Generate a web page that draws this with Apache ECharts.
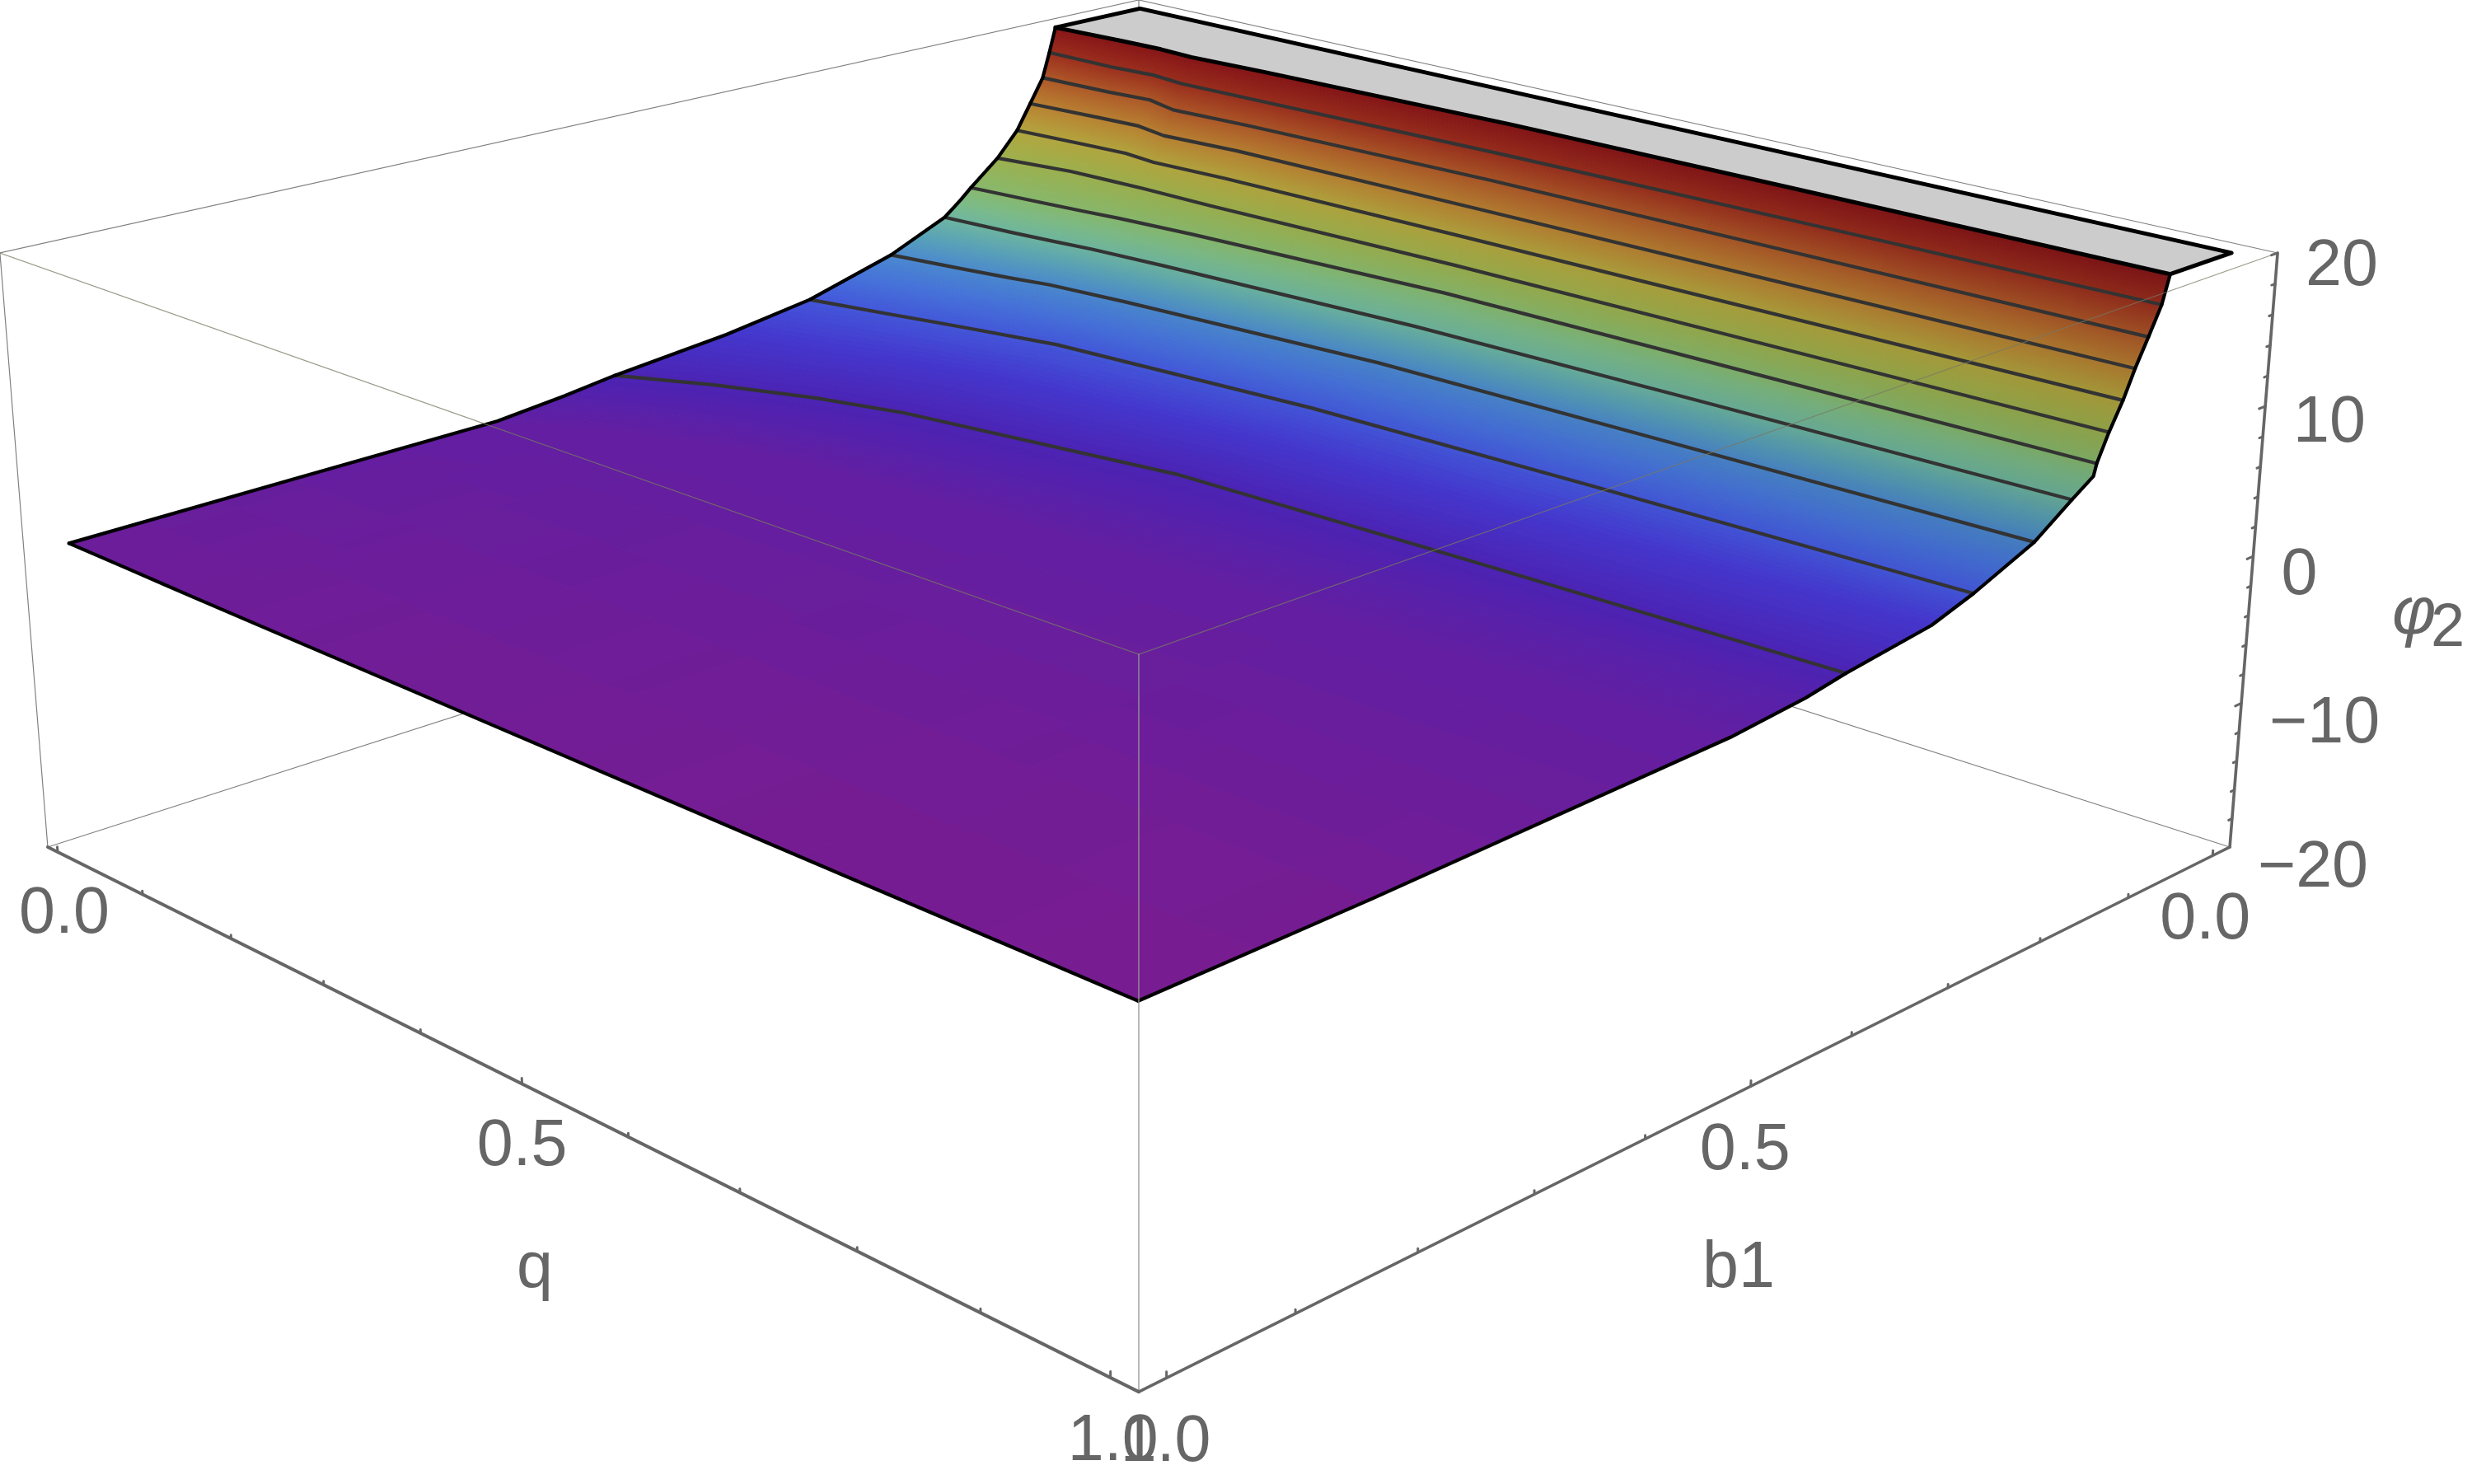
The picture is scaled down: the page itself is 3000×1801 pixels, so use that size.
<!DOCTYPE html>
<html>
<head>
<meta charset="utf-8">
<title>phi2 surface</title>
<style>
  html, body { margin: 0; background: #fff; }
  #chart { width: 3000px; height: 1801px; }
</style>
<script src="https://cdn.jsdelivr.net/npm/echarts@6/dist/echarts.min.js"></script>
</head>
<body>
<div id="chart"></div>
<script>
// values
const qColumns = [0.01, 0.078, 0.118, 0.152, 0.222, 0.455, 0.703, 1];

const b1Rows = [
  [1, 1, 1, 1, 1, 1, 1, 1],
  [0.82, 0.82, 0.82, 0.82, 0.82, 0.82, 0.82, 0.82],
  [0.645, 0.6, 0.585, 0.57, 0.55, 0.53, 0.517, 0.507],
  [0.585, 0.553, 0.537, 0.525, 0.505, 0.47, 0.45, 0.435],
  [0.538, 0.502, 0.485, 0.471, 0.45, 0.411, 0.403, 0.396],
  [0.432, 0.411, 0.397, 0.386, 0.368, 0.338, 0.328, 0.31],
  [0.35, 0.334, 0.324, 0.316, 0.3, 0.28, 0.273, 0.267],
  [0.2675, 0.255, 0.247, 0.239, 0.231, 0.212, 0.208, 0.204],
  [0.2117, 0.205, 0.2, 0.195, 0.189, 0.174, 0.169, 0.165],
  [0.195, 0.187, 0.182, 0.176, 0.17, 0.15, 0.146, 0.1424],
  [0.184, 0.176, 0.171, 0.166, 0.159, 0.143, 0.141, 0.1397],
  [0.1555, 0.1434, 0.1415, 0.14, 0.1396, 0.132, 0.13, 0.1282],
  [0.1344, 0.128, 0.1245, 0.1287, 0.1244, 0.1205, 0.118, 0.1147],
  [0.1202, 0.1135, 0.1104, 0.1178, 0.1116, 0.1083, 0.106, 0.1033],
  [0.1066, 0.1028, 0.0983, 0.1077, 0.1026, 0.0943, 0.0925, 0.0905],
  [0.0993, 0.0985, 0.0945, 0.0989, 0.0964, 0.0876, 0.083, 0.0778],
  [0.0926, 0.088, 0.0865, 0.0885, 0.084, 0.0743, 0.072, 0.0705]
];

const phi2Rows = [
  [0.91, 0.86, 0.83, 0.8, 0.76, 0.66, 0.54, 0.43],
  [1.12, 1.06, 1.03, 1, 0.96, 0.84, 0.74, 0.64],
  [1.3, 1.3, 1.3, 1.3, 1.3, 1.3, 1.3, 1.3],
  [1.8, 1.8, 1.8, 1.8, 1.8, 1.8, 1.8, 1.8],
  [2.3, 2.3, 2.3, 2.3, 2.3, 2.3, 2.3, 2.3],
  [3.1, 3.1, 3.1, 3.1, 3.1, 3.1, 3.1, 3.1],
  [4.05, 4.05, 4.05, 4.05, 4.05, 4.05, 4.05, 4.05],
  [5.8, 5.8, 5.8, 5.8, 5.8, 5.8, 5.8, 5.8],
  [7.6, 7.6, 7.6, 7.6, 7.6, 7.6, 7.6, 7.6],
  [8.6, 8.6, 8.6, 8.6, 8.6, 8.6, 8.6, 8.6],
  [9.35, 9.35, 9.35, 9.35, 9.35, 9.35, 9.35, 9.35],
  [11.1, 11.1, 11.1, 11.1, 11.1, 11.1, 11.1, 11.1],
  [12.85, 12.85, 12.85, 12.85, 12.85, 12.85, 12.85, 12.85],
  [14.65, 14.65, 14.65, 14.65, 14.65, 14.65, 14.65, 14.65],
  [16.4, 16.4, 16.4, 16.4, 16.4, 16.4, 16.4, 16.4],
  [18.2, 18.2, 18.2, 18.2, 18.2, 18.2, 18.2, 18.2],
  [20, 20, 20, 20, 20, 20, 20, 20]
];

// rows of the tables above that carry a contour line
const contourRows = [4, 6, 7, 8, 10, 11, 12, 13, 14, 15];

const qTicks = [0, 0.1, 0.2, 0.3, 0.4, 0.5, 0.6, 0.7, 0.8, 0.9, 1];
const b1Ticks = [0, 0.1, 0.2, 0.3, 0.4, 0.5, 0.6, 0.7, 0.8, 0.9, 1];
const phi2Ticks = [-20, -18, -16, -14, -12, -10, -8, -6, -4, -2, 0, 2, 4, 6, 8, 10, 12, 14, 16, 18, 20];
const qLabels = ['0.0', '0.5', '1.0'];
const b1Labels = ['0.0', '0.5', '1.0'];
const phi2Labels = ['\u221220', '\u221210', '0', '10', '20'];

// rainbow colour function: phi2 -> rgb
const colorStops = [
  [0.4, 122, 28, 143], [1.2, 100, 30, 160], [2.3, 75, 35, 180], [3.2, 68, 55, 205],
  [4.05, 66, 85, 215], [5, 68, 112, 212], [5.8, 72, 132, 200], [6.7, 85, 155, 178],
  [7.6, 105, 175, 155], [8.5, 120, 180, 130], [9.35, 130, 178, 105], [11.1, 150, 170, 75],
  [12.85, 172, 160, 60], [14.65, 178, 125, 48], [16.4, 168, 85, 38], [18.2, 150, 45, 28],
  [20, 130, 20, 22]
];

// lighting dulls the steep part a little towards q = 1
function colorOf(z, q) {
  const amount = Math.min(1, Math.max(0, (z - 3) / 3));
  const light = 1 + amount * (0.04 - 0.1 * q);
  for (let i = 1; i < colorStops.length; i++) {
    if (z <= colorStops[i][0]) {
      const a = colorStops[i - 1], b = colorStops[i];
      const f = Math.max(0, (z - a[0]) / (b[0] - a[0]));
      return 'rgb(' + [1, 2, 3].map(k => Math.min(255, Math.round((a[k] + (b[k] - a[k]) * f) * light))).join(',') + ')';
    }
  }
  return 'rgb(130,20,22)';
}

// camera of the 3D box. u, v and h run 0..1 along the box edges
function boxToPage(u, v, h) {
  const t = u + v, s = u - v;
  const w = 1 - 0.1785 * t - 0.0345 * h;
  return [1382 + 1087.7 * s / w, (602.9 * (1 - h) + 241.6 * t) / w];
}
const uOf = q => 0.0116 + 0.968 * q;
const vOf = b => 0.02 + 0.96 * b;
const hOf = z => (z + 20) / 40;
const project = (q, b, z) => boxToPage(uOf(q), vOf(b), hOf(z));
const rowPoints = r => qColumns.map((q, c) => project(q, b1Rows[r][c], phi2Rows[r][c]));
const columnPoints = c => b1Rows.map((row, r) => project(qColumns[c], row[c], phi2Rows[r][c]));

const lastRow = b1Rows.length - 1;
const lastCol = qColumns.length - 1;

const cells = [];
for (let r = 0; r < lastRow; r++) {
  for (let c = 0; c < lastCol; c++) cells.push([r, c]);
}

function renderCell(params, api) {
  const r = api.value(0), c = api.value(1);
  const at = (fr, fc) => {
    const b0 = b1Rows[r][c] + (b1Rows[r + 1][c] - b1Rows[r][c]) * fr;
    const b1 = b1Rows[r][c + 1] + (b1Rows[r + 1][c + 1] - b1Rows[r][c + 1]) * fr;
    const z0 = phi2Rows[r][c] + (phi2Rows[r + 1][c] - phi2Rows[r][c]) * fr;
    const z1 = phi2Rows[r][c + 1] + (phi2Rows[r + 1][c + 1] - phi2Rows[r][c + 1]) * fr;
    const q = qColumns[c] + (qColumns[c + 1] - qColumns[c]) * fc;
    const b = b0 + (b1 - b0) * fc, z = z0 + (z1 - z0) * fc;
    return { p: api.coord(project(q, b, z)), z: z, q: q };
  };
  const n = Math.max(1, Math.ceil(Math.abs(phi2Rows[r + 1][c] - phi2Rows[r][c]) / 0.1));
  const m = Math.max(1, Math.ceil(Math.abs(phi2Rows[r][c + 1] - phi2Rows[r][c]) / 0.03),
    Math.ceil((qColumns[c + 1] - qColumns[c]) / 0.03));
  const children = [];
  for (let i = 0; i < n; i++) {
    for (let j = 0; j < m; j++) {
      const a = at(i / n, j / m), b = at(i / n, (j + 1) / m);
      const d = at((i + 1) / n, (j + 1) / m), e = at((i + 1) / n, j / m);
      const color = colorOf((a.z + b.z + d.z + e.z) / 4, (a.q + b.q) / 2);
      children.push({
        type: 'polygon',
        shape: { points: [a.p, b.p, d.p, e.p] },
        style: { fill: color, stroke: color, lineWidth: 1 },
        silent: true
      });
    }
  }
  return { type: 'group', children: children };
}

function lineSeries(name, points, color, width, z) {
  return {
    name: name,
    type: 'line',
    data: points,
    showSymbol: false,
    clip: false,
    silent: true,
    z: z,
    lineStyle: { color: color, width: width, cap: 'round', join: 'round' }
  };
}

function segmentSeries(name, segments, color, width, z) {
  return {
    name: name,
    type: 'custom',
    coordinateSystem: 'cartesian2d',
    clip: false,
    silent: true,
    z: z,
    data: segments,
    renderItem: function (params, api) {
      const a = api.coord([api.value(0), api.value(1)]);
      const b = api.coord([api.value(2), api.value(3)]);
      return {
        type: 'line',
        shape: { x1: a[0], y1: a[1], x2: b[0], y2: b[1] },
        style: { stroke: color, lineWidth: width, lineCap: 'round' }
      };
    }
  };
}

const edge = (a, b) => a.concat(b);
const corner = (u, v, h) => boxToPage(u, v, h);

const backEdges = [
  edge(corner(0, 1, 1), corner(0, 0, 1)),
  edge(corner(1, 0, 1), corner(0, 0, 1)),
  edge(corner(0, 1, 0), corner(0, 0, 0)),
  edge(corner(1, 0, 0), corner(0, 0, 0)),
  edge(corner(0, 0, 0), corner(0, 0, 1)),
  edge(corner(0, 1, 0), corner(0, 1, 1))
];
const topFrontEdges = [
  edge(corner(0, 1, 1), corner(1, 1, 1)),
  edge(corner(1, 0, 1), corner(1, 1, 1))
];
const frontVertical = [edge(corner(1, 1, 0), corner(1, 1, 1))];

const axisTicks = [];
qTicks.forEach((q, i) => {
  const size = i % 5 === 0 ? 0.009 : 0.006;
  axisTicks.push(edge(boxToPage(uOf(q), 1, 0), boxToPage(uOf(q), 1, size)));
});
b1Ticks.forEach((b, i) => {
  const size = i % 5 === 0 ? 0.009 : 0.006;
  axisTicks.push(edge(boxToPage(1, vOf(b), 0), boxToPage(1, vOf(b), size)));
});
phi2Ticks.forEach((z, i) => {
  const size = i % 5 === 0 ? 0.007 : 0.004;
  axisTicks.push(edge(boxToPage(1, 0, hOf(z)), boxToPage(1, size, hOf(z))));
});

const capPoints = rowPoints(lastRow).concat([
  project(qColumns[lastCol], 0, 20),
  project(qColumns[0], 0, 20)
]);

const textFont = '"Liberation Sans", Arial, sans-serif';
const labelGray = '#666666';
// label nudges away from the tick they belong to
const qLabelOffset = [[8, 76], [0, 77], [3, 78]];
const b1LabelOffset = [[-9, 79], [-7, 79], [-1, 79]];
const phi2LabelOffset = [[34, 26], [34, 26], [34, 24], [34, 21], [34, 17]];
const textItems = [];

[0, 0.5, 1].forEach((q, i) => {
  const p = boxToPage(uOf(q), 1, 0);
  textItems.push({ text: qLabels[i], x: p[0] + qLabelOffset[i][0], y: p[1] + qLabelOffset[i][1], size: 79, align: 'center' });
});
[0, 0.5, 1].forEach((b, i) => {
  const p = boxToPage(1, vOf(b), 0);
  textItems.push({ text: b1Labels[i], x: p[0] + b1LabelOffset[i][0], y: p[1] + b1LabelOffset[i][1], size: 79, align: 'center' });
});
[-20, -10, 0, 10, 20].forEach((z, i) => {
  const p = boxToPage(1, 0, hOf(z));
  textItems.push({ text: phi2Labels[i], x: p[0] + phi2LabelOffset[i][0], y: p[1] + phi2LabelOffset[i][1], size: 79, align: 'left' });
});
textItems.push({ text: 'q', x: 649, y: 1540, size: 79, align: 'center' });
textItems.push({ text: 'b1', x: 2110, y: 1540, size: 79, align: 'center' });
textItems.push({ text: '\u03c6', x: 2903, y: 746, size: 82, align: 'left', italic: true });
textItems.push({ text: '2', x: 2950, y: 764, size: 74, align: 'left' });

const chart = echarts.init(document.getElementById('chart'), null, { renderer: 'canvas' });

chart.setOption({
  animation: false,
  backgroundColor: '#ffffff',
  grid: { left: 0, right: 0, top: 0, bottom: 0 },
  xAxis: { type: 'value', min: 0, max: 3000, show: false },
  yAxis: { type: 'value', min: 0, max: 1801, inverse: true, show: false },
  tooltip: { show: false },
  series: [
    segmentSeries('box back', backEdges, '#808080', 1.2, 1),
    {
      name: 'clip cap',
      type: 'custom',
      coordinateSystem: 'cartesian2d',
      clip: false,
      silent: true,
      z: 2,
      data: [[0]],
      renderItem: function (params, api) {
        return {
          type: 'polygon',
          shape: { points: capPoints.map(p => api.coord(p)) },
          style: { fill: '#cccccc' }
        };
      }
    },
    {
      name: 'surface',
      type: 'custom',
      coordinateSystem: 'cartesian2d',
      clip: false,
      silent: true,
      z: 3,
      data: cells,
      renderItem: renderCell
    }
  ].concat(
    contourRows.map(r => lineSeries('contour ' + r, rowPoints(r), '#333333', 4.2, 4)),
    [
      lineSeries('edge front', rowPoints(0), '#000000', 4.2, 5),
      lineSeries('edge q0', columnPoints(0), '#000000', 4.2, 5),
      lineSeries('edge q1', columnPoints(lastCol), '#000000', 4.2, 5),
      lineSeries('cap outline', capPoints.concat([capPoints[0]]), '#000000', 5, 5),
      segmentSeries('box front top', topFrontEdges, 'rgba(120,120,100,0.75)', 1.2, 6),
      segmentSeries('box front vertical', frontVertical, 'rgba(150,150,150,0.75)', 1.8, 6),
      lineSeries('q axis', [corner(0, 1, 0), corner(1, 1, 0)], '#666666', 4, 7),
      lineSeries('b1 axis', [corner(1, 0, 0), corner(1, 1, 0)], '#666666', 3.6, 7),
      lineSeries('phi2 axis', [corner(1, 0, 0), corner(1, 0, 1)], '#666666', 3.6, 7),
      segmentSeries('ticks', axisTicks, '#666666', 3, 7),
      {
        name: 'labels',
        type: 'custom',
        coordinateSystem: 'cartesian2d',
        clip: false,
        silent: true,
        z: 8,
        data: textItems.map((t, i) => [i]),
        renderItem: function (params, api) {
          const t = textItems[api.value(0)];
          const p = api.coord([t.x, t.y]);
          return {
            type: 'text',
            x: p[0],
            y: p[1],
            style: {
              text: t.text,
              fill: labelGray,
              font: (t.italic ? 'italic ' : '') + t.size + 'px ' + textFont,
              align: t.align,
              verticalAlign: 'middle'
            }
          };
        }
      }
    ]
  )
});
</script>
</body>
</html>
